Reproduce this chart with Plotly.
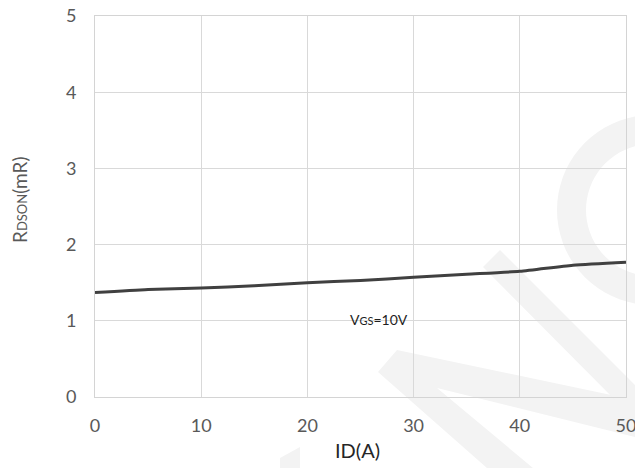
import plotly.graph_objects as go
import math

# Data
id_a = [0, 5, 10, 15, 20, 25, 30, 35, 40, 45, 50]
rdson_mr = [1.37, 1.41, 1.43, 1.46, 1.50, 1.53, 1.57, 1.61, 1.65, 1.73, 1.77]
x_ticks = [0, 10, 20, 30, 40, 50]
y_ticks = [0, 1, 2, 3, 4, 5]

W, H = 635, 468
L, R, T, B = 95, 9, 16, 71
PW, PH = W - L - R, H - T - B


def px(x, y):
    return (x - L) / PW, (H - B - y) / PH


def poly(points):
    pts = [px(a, b) for a, b in points]
    d = "M " + " L ".join(f"{a:.4f},{b:.4f}" for a, b in pts) + " Z"
    return dict(type="path", xref="paper", yref="paper", path=d,
                fillcolor="#f3f3f3", line=dict(width=0), layer="below")


FONT = "Lato"

fig = go.Figure()
fig.add_trace(go.Scatter(
    x=id_a, y=rdson_mr, mode="lines",
    line=dict(color="#404040", width=3, shape="spline", smoothing=0.6),
    showlegend=False, hoverinfo="skip", cliponaxis=False,
))

# faint watermark (decoration)
shapes = [
    poly([(378, 372), (397, 350), (635, 400), (635, 437), (437, 388), (533, 468), (487, 468)]),
    poly([(483, 267), (500, 250), (635, 385), (635, 420)]),
    poly([(280, 458), (300, 447), (300, 468), (280, 468)]),
]
outer, inner = 95, 66
cx, cy = 652, 210
arc_o = [(cx + outer * math.cos(math.radians(a)), cy - outer * math.sin(math.radians(a))) for a in range(95, 266, 5)]
arc_i = [(cx + inner * math.cos(math.radians(a)), cy - inner * math.sin(math.radians(a))) for a in range(265, 94, -5)]
shapes.append(poly(arc_o + arc_i))

fig.update_layout(
    width=W, height=H,
    margin=dict(l=L, r=R, t=T, b=B, autoexpand=False),
    paper_bgcolor="white", plot_bgcolor="rgba(0,0,0,0)",
    shapes=shapes,
    font=dict(family=FONT, color="#595959"),
    xaxis=dict(
        range=[0, 50], tickvals=x_ticks, ticktext=[str(v) for v in x_ticks],
        showgrid=True, gridcolor="#d9d9d9", gridwidth=1,
        showline=True, linecolor="#d4d4d4", linewidth=1, mirror=True,
        zeroline=False, ticks="", tickfont=dict(size=18, color="#595959", family=FONT),
        ticklabelstandoff=12, automargin=False, ticklabeloverflow="allow",
    ),
    yaxis=dict(
        range=[0, 5], tickvals=y_ticks, ticktext=[str(v) for v in y_ticks],
        showgrid=True, gridcolor="#d9d9d9", gridwidth=1,
        showline=True, linecolor="#d4d4d4", linewidth=1, mirror=True,
        zeroline=False, ticks="", tickfont=dict(size=18, color="#595959", family=FONT),
        ticklabelstandoff=14, automargin=False, ticklabeloverflow="allow",
    ),
    annotations=[
        dict(text="ID(A)", xref="paper", yref="paper",
             x=px(357, 450)[0], y=px(357, 450)[1], showarrow=False,
             font=dict(size=20, color="#262626", family=FONT),
             xanchor="center", yanchor="middle"),
        dict(text="R<span style='font-size:13px'>DSON</span>(mR)", xref="paper", yref="paper",
             x=px(19, 200)[0], y=px(19, 200)[1], showarrow=False, textangle=-90,
             font=dict(size=19, color="#595959", family=FONT),
             xanchor="center", yanchor="middle"),
        dict(text="V<span style='font-size:11px'>GS</span>=10V", xref="x", yref="y",
             x=23.8, y=1.02, showarrow=False,
             font=dict(size=14, color="#1f1f1f", family=FONT),
             xanchor="left", yanchor="middle"),
    ],
)

fig.write_html("out.html", config={"displayModeBar": False},
               post_script="document.body.style.margin='0';document.body.style.padding='0';")
